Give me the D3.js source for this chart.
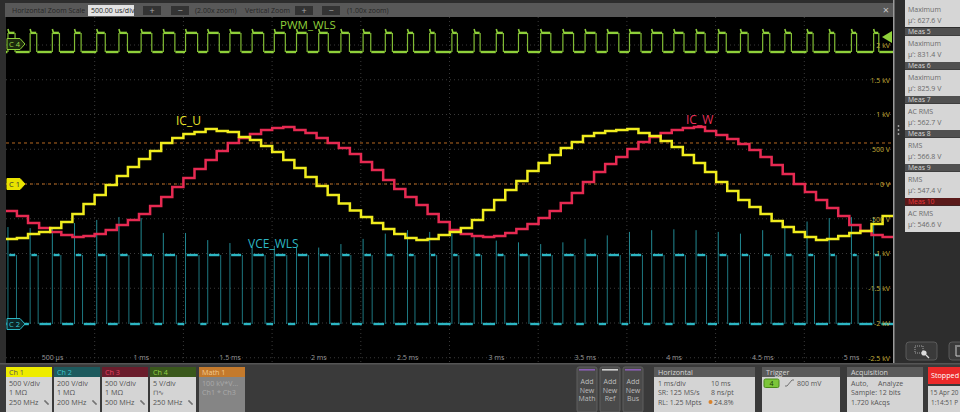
<!DOCTYPE html>
<html><head><meta charset="utf-8">
<script src="https://cdn.jsdelivr.net/npm/d3@7"></script>
<style>
html,body{margin:0;padding:0;background:#2d2d2d;overflow:hidden}
svg{display:block}
text{font-family:"Open Sans",sans-serif}
</style></head><body>
<svg id="c" width="960" height="412"></svg>
<script>
// ---------- DATA ----------
const timeTicksMs = [0.5,1,1.5,2,2.5,3,3.5,4,4.5,5];
const timeTickLabels = ["500 µs","1 ms","1.5 ms","2 ms","2.5 ms","3 ms","3.5 ms","4 ms","4.5 ms","5 ms"];
const voltTicks = [2000,1500,1000,500,0,-500,-1000,-1500,-2000,-2500];
const voltTickLabels = ["2 kV","1.5 kV","1 kV","500 V","0 V","-500 V","-1 kV","-1.5 kV","-2 kV","-2.5 kV"];

// staircase currents (displayed in V on Ch1/Ch3 500 V/div), one value per half PWM period
const stepStartMs = 0.24, stepMs = 0.0625;
const icU = [-791,-777,-719,-691,-633,-547,-432,-288,-158,-14,
  115,245,360,475,590,662,719,748,791,763,
  748,676,633,547,460,345,230,101,-30,-160,
  -280,-380,-475,-561,-647,-719,-777,-806,-791,-734,
  -691,-633,-518,-374,-230,-86,43,187,302,417,
  518,604,691,734,763,777,791,734,691,619,
  532,417,302,173,29,-101,-230,-331,-432,-532,
  -619,-691,-763,-806,-791,-748,-705,-676,-576,-460];
const icW = [-388,-460,-561,-633,-691,-734,-763,-748,-719,-662,
  -590,-518,-432,-317,-187,-43,86,216,345,475,
  590,662,719,777,806,820,777,734,662,590,
  518,432,317,201,58,-72,-187,-302,-432,-547,
  -662,-719,-748,-763,-748,-705,-647,-576,-489,-388,
  -273,-129,29,173,288,388,504,604,676,734,
  777,806,820,763,705,647,576,489,388,273,
  144,0,-115,-230,-345,-460,-590,-676,-734,-763];

// switching: rising edge times (ms), high widths (µs)
const switchEdgesMs = [0.252,0.377,0.502,0.627,0.752,0.877,1.002,1.127,1.252,1.377,
  1.502,1.627,1.752,1.877,2.002,2.127,2.252,2.377,2.502,2.627,
  2.752,2.877,3.002,3.127,3.252,3.377,3.502,3.627,3.752,3.877,
  4.002,4.127,4.252,4.377,4.502,4.627,4.752,4.877,5.002,5.127];
const vceHighUs = [48,45,48,45,56,56,68,73,76,73,70,73,70,68,62,56,51,48,42,39,
  39,42,48,59,65,68,70,73,73,70,65,59,53,51,48,45,42,39,37,37];
const pwmHighUs = [40,37,40,37,48,48,60,65,68,65,62,65,62,60,54,48,43,40,34,31,
  31,34,40,51,57,60,62,65,65,62,57,51,45,43,40,37,34,31,29,29];
const vceSpikeV = [558,552,558,581,599,616,610,524,524,483,466,443,450,440,440,460,490,520,540,530,
  520,500,480,470,460,470,490,510,530,540,545,540,530,520,540,560,590,610,615,615];
const vceLevelsV = [0, 397];     // Ch2 low / high
const pwmLevelsV = [-1.15, 1.6]; // Ch4 low / high
const pwmOvershootV = 0.55;
const refLevelV = 590;

const measTitles = ["Meas 5","Meas 6","Meas 7","Meas 8","Meas 9","Meas 10"];
const measTypes  = ["Maximum","Maximum","AC RMS","RMS","RMS","AC RMS"];
const measValues = ["831.4 V","825.9 V","562.7 V","566.8 V","547.4 V","546.6 V"];

// ---------- LAYOUT ----------
const svg = d3.select("#c");
const plot = {l:6, r:893, t:17, b:363};
const divPx = 34.75;
const x  = d3.scaleLinear().domain([0.241, 5.236]).range([plot.l, plot.r]);
const y1 = d3.scaleLinear().domain([-2500, 2500]).range([184 + 5*divPx, 184 - 5*divPx]);
const y2 = d3.scaleLinear().domain([0, 200]).range([324, 324 - divPx]);
const y4 = d3.scaleLinear().domain([0, 5]).range([44, 44 - divPx]);
const F = "Open Sans, sans-serif";

svg.append("rect").attr("width",960).attr("height",412).attr("fill","#2d2d2d");
svg.append("rect").attr("x",plot.l).attr("y",3).attr("width",plot.r-plot.l).attr("height",plot.b-3).attr("fill","#000");

svg.append("defs").append("clipPath").attr("id","pc").append("rect")
  .attr("x",plot.l).attr("y",plot.t).attr("width",plot.r-plot.l).attr("height",plot.b-plot.t);
const P = svg.append("g").attr("clip-path","url(#pc)");

// graticule
const grid = P.append("g").attr("stroke","#3a3a3a").attr("stroke-width",1).attr("stroke-dasharray","1,3");
d3.range(1,10).forEach(i=>{
  const gx = plot.l + i*(plot.r-plot.l)/10;
  grid.append("line").attr("x1",gx).attr("x2",gx).attr("y1",plot.t).attr("y2",plot.b);
});
voltTicks.forEach(v=>{
  grid.append("line").attr("x1",plot.l).attr("x2",plot.r).attr("y1",y1(v)).attr("y2",y1(v));
});

// reference dashed lines
[refLevelV, 0].forEach(v=>{
  P.append("line").attr("x1",plot.l).attr("x2",plot.r).attr("y1",y1(v)).attr("y2",y1(v))
   .attr("stroke","#b86a22").attr("stroke-width",1).attr("stroke-dasharray","3,3");
});

// ---------- switching waveforms ----------
function segs(edges, widthsUs, lv, hv, gap){
  const hor = [], ver = [];
  hor.push([[x.domain()[0], lv],[edges[0]-gap, lv]]);
  edges.forEach((r,i)=>{
    const f = r + widthsUs[i]/1000;
    const n = i < edges.length-1 ? edges[i+1] : x.domain()[1] + 0.05;
    hor.push([[r+gap,hv],[f-gap,hv]]);
    hor.push([[f+gap,lv],[n-gap,lv]]);
    ver.push([[r,lv],[r,hv]]);
    ver.push([[f,hv],[f,lv]]);
  });
  return {hor, ver};
}
// VCE (Ch2)
const vce = segs(switchEdgesMs, vceHighUs, vceLevelsV[0], vceLevelsV[1], 0.007);
const l2 = d3.line().x(d=>x(d[0])).y(d=>y2(d[1]));
const cy = "#2cb6c3";
P.append("g").selectAll("path").data(vce.ver).join("path").attr("d",l2)
  .attr("stroke",cy).attr("stroke-width",1).attr("opacity",0.65).attr("fill","none");
P.append("g").selectAll("path").data(switchEdgesMs.map((r,i)=>[[r,vceLevelsV[1]],[r,vceSpikeV[i]]])).join("path").attr("d",l2)
  .attr("stroke",cy).attr("stroke-width",1).attr("opacity",0.75).attr("fill","none");
P.append("g").selectAll("path").data(vce.hor).join("path").attr("d",l2)
  .attr("stroke",cy).attr("stroke-width",2.4).attr("fill","none");

// PWM (Ch4)
const pwm = segs(switchEdgesMs, pwmHighUs, pwmLevelsV[0], pwmLevelsV[1], 0.003);
const l4 = d3.line().x(d=>x(d[0])).y(d=>y4(d[1]));
const gr = "#8fd03a";
P.append("g").selectAll("path").data(pwm.ver).join("path").attr("d",l4)
  .attr("stroke",gr).attr("stroke-width",1.2).attr("opacity",0.9).attr("fill","none");
P.append("g").selectAll("path").data(switchEdgesMs.map(r=>[[r,pwmLevelsV[1]+pwmOvershootV],[r+0.006,pwmLevelsV[1]]])).join("path").attr("d",l4)
  .attr("stroke",gr).attr("stroke-width",1.6).attr("fill","none");
P.append("g").selectAll("path").data(pwm.hor).join("path").attr("d",l4)
  .attr("stroke",gr).attr("stroke-width",2.4).attr("fill","none");

// ---------- staircase currents ----------
function stairs(vals){
  const pts = vals.map((v,i)=>[stepStartMs + i*stepMs, v]);
  pts.push([stepStartMs + vals.length*stepMs, vals[vals.length-1]]);
  return pts;
}
const l1 = d3.line().x(d=>x(d[0])).y(d=>y1(d[1])).curve(d3.curveStepAfter);
P.append("path").attr("d",l1(stairs(icW))).attr("stroke","#e62a52").attr("stroke-width",2.5).attr("fill","none");
P.append("path").attr("d",l1(stairs(icU))).attr("stroke","#f0ec1e").attr("stroke-width",2.5).attr("fill","none");

// trace labels
const lab = (t,xx,yy,c,s)=>svg.append("text").attr("x",xx).attr("y",yy).attr("fill",c).attr("font-size",s).attr("font-family",F).text(t);
lab("PWM_WLS",280,29,"#8fd03a","11.5px");
lab("IC_U",176,125,"#e8e22a","12px");
lab("IC_W",686,124,"#e6305a","12px");
lab("VCE_WLS",248,248,"#2cb6c3","12px");

// axes labels
const ya = svg.append("g").attr("transform","translate(890,0)")
  .call(d3.axisLeft(y1).tickValues(voltTicks).tickFormat((d,i)=>voltTickLabels[i]).tickSize(0).tickPadding(0));
ya.select(".domain").remove();
ya.selectAll("text").attr("fill","#c4ae38").attr("font-size","7px").attr("font-family",F);
const xa = svg.append("g").attr("transform","translate(0,362)")
  .call(d3.axisTop(x).tickValues(timeTicksMs).tickFormat((d,i)=>timeTickLabels[i]).tickSize(0).tickPadding(2));
xa.select(".domain").remove();
xa.selectAll("text").attr("fill","#9a9a9a").attr("font-size","7px").attr("font-family",F);

// channel markers
function badge(yc, fill, stroke, tc, t){
  const p = `M7,${yc-5.5} L20,${yc-5.5} L25,${yc} L20,${yc+5.5} L7,${yc+5.5} Z`;
  svg.append("path").attr("d",p).attr("fill",fill).attr("stroke",stroke).attr("stroke-width",1);
  svg.append("text").attr("x",9).attr("y",yc+2.6).attr("fill",tc).attr("font-size","7.5px").attr("font-family",F).text(t);
}
badge(44,"#1c2a0c","#8fd03a","#9ad84a","C 4");
badge(184,"#e8e200","#e8e200","#333","C 1");
badge(324,"#0c2628","#2cb6c3","#3cc6d3","C 2");
// trigger arrow
svg.append("path").attr("d","M882,37 L892,31 L892,43 Z").attr("fill","#8fd03a");

// ---------- top zoom bar ----------
svg.append("rect").attr("x",5).attr("y",3).attr("width",888).attr("height",14).attr("fill","#585858");
const tt = (t,xx,yy,c,s,a)=>svg.append("text").attr("x",xx).attr("y",yy).attr("fill",c).attr("font-size",s||"7px").attr("font-family",F).attr("text-anchor",a||"start").text(t);
tt("Horizontal Zoom Scale",12,12.5,"#262626");
svg.append("rect").attr("x",88).attr("y",5).attr("width",46).attr("height",11).attr("fill","#e2e2e2");
tt("500.00 us/div",91,12.8,"#222");
[[143,"+"],[171,"−"],[295,"+"],[322,"−"]].forEach(([bx,s])=>{
  svg.append("rect").attr("x",bx).attr("y",6).attr("width",18).attr("height",9).attr("fill","#333");
  tt(s,bx+9,13.5,"#aaa","9px","middle");
});
tt("(2.00x zoom)",195,12.5,"#262626");
tt("Vertical Zoom",245,12.5,"#262626");
tt("(1.00x zoom)",347,12.5,"#262626");
tt("×",886,14,"#c8c8c8","11px","middle");

// ---------- right measurement panel ----------
svg.append("rect").attr("x",893).attr("y",0).attr("width",1.5).attr("height",365).attr("fill","#9a9a9a");
[126,130,134].forEach(d=>svg.append("circle").attr("cx",898.5).attr("cy",d).attr("r",0.9).attr("fill","#aaa"));
svg.append("rect").attr("x",905).attr("y",0).attr("width",55).attr("height",27).attr("fill","#d6d6d6");
tt("Maximum",908,12,"#6a6a6a");
tt("µ': 627.6 V",908,23,"#6a6a6a");
measTitles.forEach((m,i)=>{
  const hy = 28 + 34*i;
  const last = i === measTitles.length-1;
  svg.append("rect").attr("x",905).attr("y",hy).attr("width",55).attr("height",7.5).attr("fill",last?"#5a1a1a":"#505050");
  tt(m,908,hy+6.3,last?"#e8363a":"#d8d8d8","6.8px");
  svg.append("rect").attr("x",905).attr("y",hy+8).attr("width",55).attr("height",26).attr("fill","#d6d6d6");
  tt(measTypes[i],908,hy+18,"#6a6a6a");
  tt("µ': " + measValues[i],908,hy+29,"#6a6a6a");
});
svg.append("rect").attr("x",906).attr("y",342).attr("width",31).attr("height",18).attr("rx",3).attr("fill","#3a3a3a").attr("stroke","#5a5a5a");
svg.append("rect").attr("x",915).attr("y",346).attr("width",8).attr("height",7).attr("fill","none").attr("stroke","#bbb").attr("stroke-width",0.8).attr("stroke-dasharray","1,1");
svg.append("circle").attr("cx",924).attr("cy",353).attr("r",2.6).attr("fill","#ddd");
svg.append("line").attr("x1",926).attr("y1",355).attr("x2",929).attr("y2",358).attr("stroke","#ddd").attr("stroke-width",1.3);
svg.append("rect").attr("x",949).attr("y",342).attr("width",22).attr("height",18).attr("rx",3).attr("fill","#3a3a3a").attr("stroke","#5a5a5a");
svg.append("path").attr("d","M955,346 h7 M956,347 v9 h5 v-9").attr("fill","none").attr("stroke","#ccc").attr("stroke-width",1);

// ---------- bottom bar ----------
svg.append("rect").attr("x",0).attr("y",364).attr("width",960).attr("height",48).attr("fill","#3a3a3a");
svg.append("rect").attr("x",0).attr("y",363).attr("width",960).attr("height",1.5).attr("fill","#555");
const chans = [
  {x:6,  t:"Ch 1", hf:"#eeec00", hc:"#555",   bf:"#d4d4d4", bc:"#555", l:["500 V/div","1 MΩ","250 MHz"], icon:true},
  {x:54, t:"Ch 2", hf:"#1d5a5e", hc:"#39c4cf",bf:"#d4d4d4", bc:"#555", l:["200 V/div","1 MΩ","200 MHz"], icon:true},
  {x:102,t:"Ch 3", hf:"#6a1d2c", hc:"#e84060",bf:"#d4d4d4", bc:"#555", l:["500 V/div","1 MΩ","500 MHz"], icon:true},
  {x:150,t:"Ch 4", hf:"#3a581c", hc:"#92d244",bf:"#d4d4d4", bc:"#555", l:["5 V/div","⊓∿","250 MHz"], icon:true},
  {x:199,t:"Math 1",hf:"#c47a2c",hc:"#f3c88e",bf:"#858585", bc:"#aaa", l:["100 kV*V...","Ch1 * Ch3",""], icon:false}
];
chans.forEach(c=>{
  svg.append("rect").attr("x",c.x).attr("y",367).attr("width",46).attr("height",10).attr("fill",c.hf);
  tt(c.t,c.x+3,374.8,c.hc,"7.2px");
  svg.append("rect").attr("x",c.x).attr("y",377).attr("width",46).attr("height",35).attr("fill",c.bf);
  c.l.forEach((s,i)=>tt(s,c.x+3,385.5+9.5*i,c.bc,"7.2px"));
  if(c.icon) svg.append("path").attr("d",`M${c.x+38},401 h2 v2 h2 v2`).attr("fill","none").attr("stroke","#555").attr("stroke-width",1);
});
[[577,"Math","#8a5fb4"],[600,"Ref","#cfcfcf"],[623,"Bus","#8a5fb4"]].forEach(([bx,s,c])=>{
  svg.append("rect").attr("x",bx).attr("y",367).attr("width",20).attr("height",45).attr("rx",2).attr("fill","#4a4a4a").attr("stroke","#5e5e5e");
  svg.append("rect").attr("x",bx+2).attr("y",369).attr("width",16).attr("height",1.6).attr("fill",c);
  ["Add","New",s].forEach((w,i)=>tt(w,bx+10,384+8.5*i,"#bdbdbd","7px","middle"));
});
function panel(px,w,title){
  svg.append("rect").attr("x",px).attr("y",367).attr("width",w).attr("height",10).attr("fill","#5a5a5a");
  tt(title,px+4,374.8,"#d6d6d6","7.2px");
  svg.append("rect").attr("x",px).attr("y",377).attr("width",w).attr("height",35).attr("fill","#d4d4d4");
}
panel(654,101,"Horizontal");
tt("1 ms/div",658,385.5,"#555"); tt("10 ms",711,385.5,"#555");
tt("SR: 125 MS/s",658,395,"#555"); tt("8 ns/pt",711,395,"#555");
tt("RL: 1.25 Mpts",658,404.5,"#555");
svg.append("circle").attr("cx",710.5).attr("cy",402).attr("r",2).attr("fill","#d9822b");
tt("24.8%",714,404.5,"#555");
panel(762,78,"Trigger");
svg.append("rect").attr("x",764).attr("y",379).attr("width",15).attr("height",8.5).attr("rx",1.5).attr("fill","#7cc63a").attr("stroke","#4a8a1a");
tt("4",771.5,385.8,"#1a3a08","7px","middle");
svg.append("path").attr("d","M785,386 h2 l5,-6 h2").attr("fill","none").attr("stroke","#666").attr("stroke-width",0.9);
tt("800 mV",797,385.5,"#555");
panel(847,76,"Acquisition");
tt("Auto,",851,385.5,"#555"); tt("Analyze",878,385.5,"#555");
tt("Sample: 12 bits",851,395,"#555");
tt("1.720 kAcqs",851,404.5,"#555");
svg.append("rect").attr("x",928).attr("y",367).attr("width",34).attr("height",17).attr("fill","#ec2a2a");
tt("Stopped",931,378,"#fff","7.2px");
svg.append("rect").attr("x",928).attr("y",386).attr("width",34).attr("height",26).attr("fill","#d4d4d4");
tt("15 Apr 20",930,395,"#555","6.4px");
tt("1:14:51 P",931,404.5,"#555","6.4px");
</script>
</body></html>
